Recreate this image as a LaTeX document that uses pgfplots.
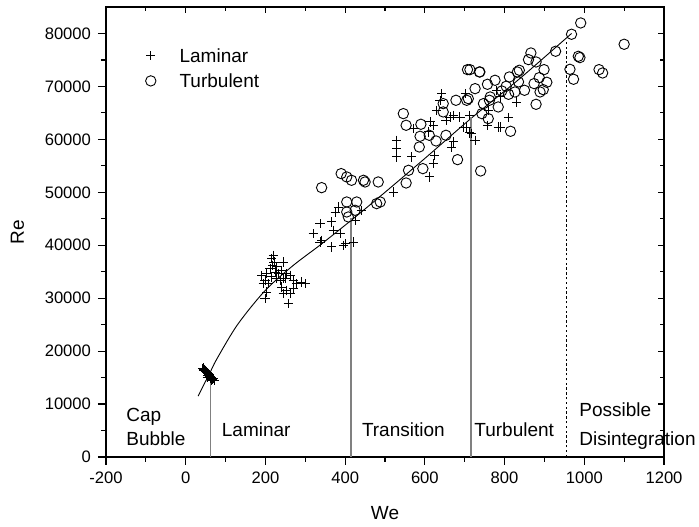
\documentclass[border=0pt]{standalone}
\usepackage{fontspec}
\setmainfont{Liberation Sans}
\usepackage{pgfplots}
\pgfplotsset{compat=1.18}
\usetikzlibrary{calc}

\pgfplotstableread{
x y
42 16700
44 16500
45 16800
46 16300
48 16600
49 16100
50 16400
52 15900
53 16200
54 15000
55 15700
56 15400
58 15800
59 15200
60 15500
62 15000
63 14800
64 14400
65 15100
66 14700
68 14600
70 14900
72 14500
219.8 38100
215.6 37470
221.5 36840
218.2 36210
211.5 35580
228.2 35900
224 34950
203.1 34640
190.6 34320
232.4 34640
240.7 35270
244.9 36840
253.3 34640
261.6 34320
249.1 33690
236.6 33380
198.9 33380
207.3 32750
194.7 32750
203.1 31170
198.9 29920
240.7 32120
244.9 30860
253.3 31490
261.6 30860
270 31800
278.4 32750
290.9 33060
299.3 32750
257.5 28970
244.9 33690
228.2 33690
215.6 34010
270 33380
336.9 40620
366.2 39680
395.5 39990
420.5 40620
337 44080
320 42190
341 40930
366 44400
370 42820
387 42190
383 47230
375 46280
400 40300
425 44710
441 46600
521 50060
529 59820
529 58250
529 56680
567 56680
571 62030
613 63290
621 62660
625 56990
621 55420
611 52900
667 58560
672 59510
642 68640
638 67380
630 65490
663 64230
672 64550
688 64230
701 68640
705 62340
712 64550
718 61080
726 59820
784 62340
780 69270
609 61400
789 68010
759 65490
810 64100
789 62340
830 67060
757 62660
653 63600
697 62340
712 61210
}\laminar

\pgfplotstableread{
x y
341 50880
390 53530
404 52900
416 52270
446 52270
450 51950
483 51950
404 48170
429 48170
479 47860
404 46280
408 45340
425 46600
559 54150
553 51760
595 54470
682 56170
740 54030
546 64860
553 62660
590 62850
588 60580
586 58560
611 60770
628 59700
653 60770
646 66750
646 65180
678 67380
705 67380
707 73170
713 73170
737 72730
726 69580
709 67690
747 66750
762 67380
743 64860
759 63920
757 70400
776 71160
764 68010
784 66120
991 81990
968 79850
928 76640
866 76320
860 75060
879 74620
837 73050
832 72730
899 73170
887 71660
906 70780
897 69390
889 68950
874 70530
850 69270
826 68950
835 70850
812 71790
804 70030
793 69140
810 68510
815 61520
879 66620
985 75690
989 75440
964 73230
973 71350
1037 73170
1046 72540
1100 77960
738 72730
488 48170
}\turbulent

\pgfplotstableread{
x y
31 11500
60 15800
78 18500
130 25000
200 31500
270 36200
340 40200
420 45000
500 50000
600 56400
715 63900
840 71600
968 80000
}\fit

\begin{document}
\begin{tikzpicture}
\begin{axis}[
  scale only axis, width=279pt, height=225pt,
  xmin=-200, xmax=1200, ymin=0, ymax=85000,
  clip=false,
  xtick={-200,0,...,1200}, ytick={0,10000,...,80000},
  minor x tick num=1, minor y tick num=1,
  xtick pos=left, ytick pos=left,
  tick align=outside,
  major tick length=4pt, minor tick length=2.5pt,
  axis line style={line width=0.8pt},
  tick style={line width=0.6pt, black},
  scaled y ticks=false,
  /pgf/number format/assume math mode=true,
  /pgf/number format/1000 sep={},
  tick label style={font=\fontsize{8.3}{10}\selectfont},
  label style={font=\fontsize{9.5}{11}\selectfont},
  xlabel={We}, ylabel={Re},
  xlabel style={at={(axis description cs:0.5,-0.1244)}, anchor=center},
  ylabel style={at={(axis description cs:-0.1586,0.5)}, anchor=center, rotate=0},
  legend cell align=left,
  legend image code/.code={\path (-4pt,-3.5pt) (14.2pt,3.5pt); \draw[#1] plot coordinates {(0pt,0pt)};},
  legend style={draw=none, fill=none, inner sep=0pt, row sep=5.15pt, column sep=0pt,
    at={(axis description cs:0.0645,0.9089)}, anchor=north west,
    nodes={inner sep=0pt, text height=7pt, text depth=0pt},
    font=\fontsize{9.5}{11}\selectfont},
]
\addplot[only marks, mark=+, mark size=2.3pt, mark options={line width=0.45pt}, black] table {\laminar};
\addlegendentry{Laminar}
\addplot[only marks, mark=o, mark size=2.6pt, mark options={line width=0.45pt}, black] table {\turbulent};
\addlegendentry{Turbulent}
\addplot[black, line width=0.45pt, smooth, forget plot] table {\fit};
\addplot[gray, line width=0.65pt, forget plot] coordinates {(61.7,0) (61.7,15800)};
\addplot[gray, line width=0.65pt, forget plot] coordinates {(415,0) (415,45060)};
\addplot[gray, line width=0.65pt, forget plot] coordinates {(716,0) (716,64240)};
\addplot[black, line width=0.45pt, dash pattern=on 1.2pt off 1.2pt, forget plot] coordinates {(954,0) (954,78860)};
\begin{scope}[every node/.style={inner sep=0pt, anchor=base west, font=\fontsize{9.5}{11}\selectfont}]
\node at (axis cs:-150,6612) {Cap};
\node at (axis cs:-150,2210) {Bubble};
\node at (axis cs:89.8,3850) {Laminar};
\node at (axis cs:441.3,3850) {Transition};
\node at (axis cs:723.3,3850) {Turbulent};
\node at (axis cs:986.8,7688) {Possible};
\node at (axis cs:986.8,2210) {Disintegration};
\end{scope}
\end{axis}
\begin{axis}[
  scale only axis, width=279pt, height=225pt,
  xmin=-200, xmax=1200, ymin=0, ymax=85000,
  axis x line*=top, axis y line*=right,
  xtick={-200,0,...,1200}, ytick={0,10000,...,80000},
  minor x tick num=1, minor y tick num=1,
  scaled ticks=false,
  xticklabels={}, yticklabels={},
  tick align=inside,
  major tick length=3pt, minor tick length=2pt,
  axis line style={line width=0.8pt, -},
  tick style={line width=0.6pt, black},
]
\end{axis}
\pgfresetboundingbox
\path ($(current axis.south west)+(-53pt,-35pt)$) rectangle ($(current axis.north east)+(17.5pt,3.5pt)$);
\end{tikzpicture}
\end{document}
